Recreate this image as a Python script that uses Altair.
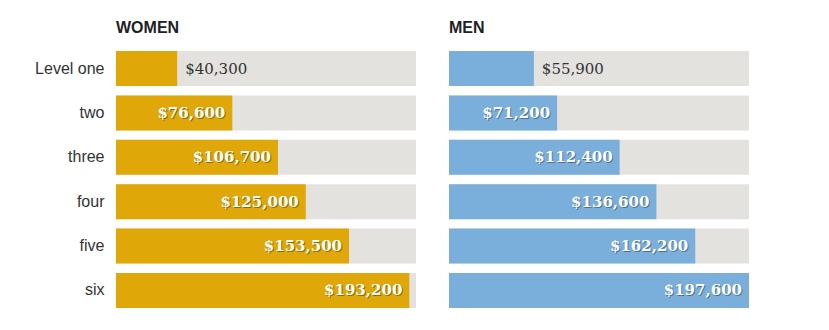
import altair as alt
import pandas as pd

levels = ["Level one", "two", "three", "four", "five", "six"]
women = [40300, 76600, 106700, 125000, 153500, 193200]
men = [55900, 71200, 112400, 136600, 162200, 197600]

max_val = max(women + men)

def make_df(values):
    df = pd.DataFrame({"level": levels, "value": values})
    df["full"] = max_val
    df["label"] = df["value"].map(lambda v: "${:,.0f}".format(v))
    df["inside"] = [i > 0 for i in range(len(levels))]
    return df

xscale = alt.Scale(domain=[0, max_val], nice=False, zero=True)

def panel(values, title, color, show_axis):
    df = make_df(values)
    yaxis = alt.Axis(title=None, domain=False, ticks=False, labelPadding=12,
                     labelFontSize=16, labelFont="Liberation Sans", labelColor="#333333",
                     minExtent=116, maxExtent=116) if show_axis else None
    y = alt.Y("level:N", sort=levels, axis=yaxis,
              scale=alt.Scale(paddingInner=0.21, paddingOuter=0))
    base = alt.Chart(df).encode(y=y)
    bg = base.mark_bar(color="#e3e2de").encode(
        x=alt.X("full:Q", scale=xscale, axis=None))
    bar = base.mark_bar(color=color).encode(
        x=alt.X("value:Q", scale=xscale, axis=None))
    outside = base.transform_filter("!datum.inside").mark_text(
        align="left", baseline="middle", dx=8, font="DejaVu Serif", fontSize=15,
        color="#333333").encode(x=alt.X("value:Q", scale=xscale, axis=None), text="label:N")
    shadow = base.transform_filter("datum.inside").mark_text(
        align="right", baseline="middle", dx=-6, dy=1, font="DejaVu Serif", fontSize=15,
        fontWeight="bold", color="#000000", opacity=0.35).encode(
        x=alt.X("value:Q", scale=xscale, axis=None), text="label:N")
    inside = base.transform_filter("datum.inside").mark_text(
        align="right", baseline="middle", dx=-7, font="DejaVu Serif", fontSize=15,
        fontWeight="bold", color="#ffffff").encode(
        x=alt.X("value:Q", scale=xscale, axis=None), text="label:N")
    return alt.layer(bg, bar, outside, shadow, inside).properties(
        width=300, height=257,
        title=alt.TitleParams(title, anchor="start", frame="group", fontSize=16,
                              fontWeight="bold", font="Liberation Sans",
                              color="#222222", offset=15))

chart = alt.hconcat(
    panel(women, "WOMEN", "#e0a709", True),
    panel(men, "MEN", "#7aaedb", False),
    spacing=33,
).properties(padding={"left": 0, "top": 20, "right": 0, "bottom": 0}).configure_view(stroke=None)

chart.save("out.html", embed_options={"renderer": "svg", "actions": False})
